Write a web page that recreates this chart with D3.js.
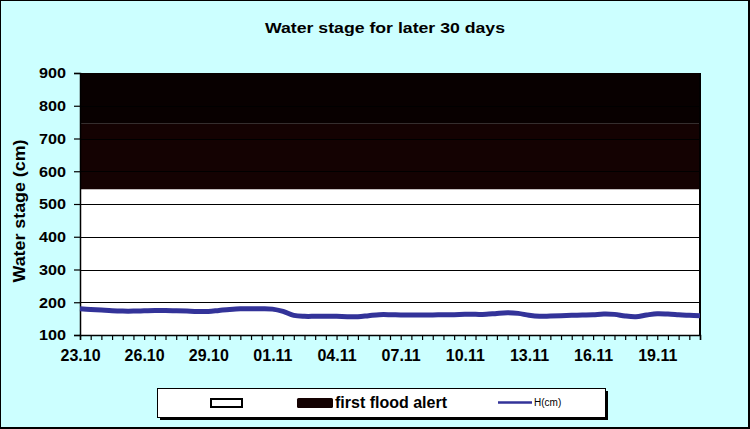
<!DOCTYPE html>
<html>
<head>
<meta charset="utf-8">
<script src="https://cdn.jsdelivr.net/npm/d3@7/dist/d3.min.js"></script>
<style>
  html, body { margin: 0; padding: 0; background: #fff; }
  svg { display: block; }
  text { font-family: Arial, "Liberation Sans", sans-serif; }
</style>
</head>
<body>
<svg id="chart" width="750" height="429"></svg>
<script>
// ---- data ----
const title = "Water stage for later 30 days";
const yTitle = "Water stage (cm)";
// half-day observation slots starting 23.10
const dayLabels = ["23.10","26.10","29.10","01.11","04.11","07.11","10.11","13.11","16.11","19.11"];
const labelEvery = 6; // one label every 6 half-day slots (3 days)
const waterLevel = [180,178,176,174,173,173,174,175,175,174,173,172,172,175,178,180,180,180,179,172,
                    160,157,157,157,157,156,156,159,162,162,161,161,161,161,162,162,163,163,163,166,
                    168,166,160,157,158,159,160,161,162,164,163,158,156,161,165,164,162,160,159];
const yTicks = [100,200,300,400,500,600,700,800,900];
const alertBands = [ {from: 545, to: 745, name: "first flood alert"}, {from: 745, to: 900, name: ""} ];
const legendItems = ["", "first flood alert", "H(cm)"];

// ---- layout ----
const svg = d3.select("#chart");
const W = 750, H = 429;
const plot = {left: 80, right: 700, top: 73, bottom: 335};

svg.append("rect").attr("x", 0).attr("y", 0).attr("width", W).attr("height", H).attr("fill", "#ccffff");
svg.append("rect").attr("x", 0.5).attr("y", 0.5).attr("width", W - 1.5).attr("height", H - 1.5)
  .attr("fill", "none").attr("stroke", "#000").attr("stroke-width", 1);
svg.append("line").attr("x1", W - 1).attr("x2", W - 1).attr("y1", 0).attr("y2", H).attr("stroke", "#000").attr("stroke-width", 2);
svg.append("line").attr("x1", 0).attr("x2", W).attr("y1", H - 1).attr("y2", H - 1).attr("stroke", "#000").attr("stroke-width", 2);

const x = d3.scaleLinear().domain([0, waterLevel.length - 1]).range([plot.left, plot.right]);
const y = d3.scaleLinear().domain([100, 900]).range([plot.bottom, plot.top]);

// plot area
svg.append("rect").attr("x", plot.left).attr("y", plot.top)
  .attr("width", plot.right - plot.left).attr("height", plot.bottom - plot.top).attr("fill", "#fff");

// alert bands
const bandColors = ["#140202", "#080000"];
svg.selectAll("rect.band").data(alertBands).enter().append("rect")
  .attr("class", "band")
  .attr("x", plot.left).attr("width", plot.right - plot.left + 1)
  .attr("y", d => y(d.to)).attr("height", d => y(d.from) - y(d.to))
  .attr("fill", (d, i) => bandColors[i]);

// gridlines
svg.selectAll("line.grid").data(yTicks.filter(v => v > 100 && v < 900)).enter().append("line")
  .attr("class", "grid")
  .attr("x1", plot.left).attr("x2", plot.right)
  .attr("y1", d => Math.round(y(d)) + 0.5).attr("y2", d => Math.round(y(d)) + 0.5)
  .attr("stroke", "#000").attr("stroke-width", 1);

// right frame
svg.append("line").attr("x1", plot.right).attr("x2", plot.right)
  .attr("y1", plot.top).attr("y2", plot.bottom).attr("stroke", "#000").attr("stroke-width", 2);

// y axis
const yAxis = d3.axisLeft(y).tickValues(yTicks).tickSize(6).tickPadding(8).tickFormat(d3.format("d"));
const gy = svg.append("g").attr("transform", `translate(${plot.left},0)`).call(yAxis);
gy.select(".domain").attr("stroke", "#000").attr("stroke-width", 1.5);
gy.selectAll(".tick line").attr("stroke", "#000").attr("stroke-width", 1.2);
gy.selectAll(".tick text").attr("font-size", 15).attr("font-weight", "bold").attr("fill", "#000")
  .attr("font-family", "Arial, 'Liberation Sans', sans-serif")
  .attr("textLength", 27).attr("lengthAdjust", "spacingAndGlyphs");

// x axis
const idx = d3.range(waterLevel.length);
const xAxis = d3.axisBottom(x).tickValues(idx).tickSize(5).tickPadding(8)
  .tickFormat(i => (i % labelEvery === 0 && dayLabels[i / labelEvery] !== undefined) ? dayLabels[i / labelEvery] : "");
const gx = svg.append("g").attr("transform", `translate(0,${plot.bottom})`).call(xAxis);
gx.select(".domain").attr("stroke", "#000").attr("stroke-width", 1.5);
gx.selectAll(".tick line").attr("stroke", "#000").attr("stroke-width", 1.2);
gx.selectAll(".tick text").attr("font-size", 16).attr("font-weight", "bold").attr("fill", "#000")
  .attr("font-family", "Arial, 'Liberation Sans', sans-serif").attr("dy", "0.8em");

// water line
const line = d3.line().x((d, i) => x(i)).y(d => y(d)).curve(d3.curveCatmullRom.alpha(0.5));
svg.append("path").datum(waterLevel).attr("d", line)
  .attr("fill", "none").attr("stroke", "#333399").attr("stroke-width", 5)
  .attr("stroke-linejoin", "round").attr("stroke-linecap", "butt");

// title
svg.append("text").attr("x", 385).attr("y", 33).attr("text-anchor", "middle")
  .attr("font-size", 15.5).attr("font-weight", "bold").attr("fill", "#000")
  .attr("textLength", 240).attr("lengthAdjust", "spacingAndGlyphs").text(title);

// y title
svg.append("text").attr("transform", "translate(25,211) rotate(-90)").attr("text-anchor", "middle")
  .attr("font-size", 16).attr("font-weight", "bold").attr("fill", "#000")
  .attr("textLength", 143).attr("lengthAdjust", "spacingAndGlyphs").text(yTitle);

// legend
const lg = {x: 157, y: 388, w: 448, h: 29};
svg.append("rect").attr("x", lg.x + 3).attr("y", lg.y + 3).attr("width", lg.w).attr("height", lg.h).attr("fill", "#000");
svg.append("rect").attr("x", lg.x + 0.5).attr("y", lg.y + 0.5).attr("width", lg.w).attr("height", lg.h)
  .attr("fill", "#fff").attr("stroke", "#000").attr("stroke-width", 1);
svg.append("rect").attr("x", 211).attr("y", 399).attr("width", 31).attr("height", 8)
  .attr("fill", "#fff").attr("stroke", "#000").attr("stroke-width", 2);
svg.append("rect").attr("x", 297).attr("y", 398).attr("width", 36).attr("height", 10)
  .attr("fill", bandColors[0]).attr("rx", 1.5);
svg.append("text").attr("x", 335).attr("y", 408).attr("font-size", 16).attr("font-weight", "bold")
  .attr("fill", "#000").text(legendItems[1]);
svg.append("line").attr("x1", 498).attr("x2", 532).attr("y1", 402.5).attr("y2", 402.5)
  .attr("stroke", "#333399").attr("stroke-width", 2.5);
svg.append("text").attr("x", 534).attr("y", 406).attr("font-size", 10).attr("fill", "#000").text(legendItems[2]);
</script>
</body>
</html>
